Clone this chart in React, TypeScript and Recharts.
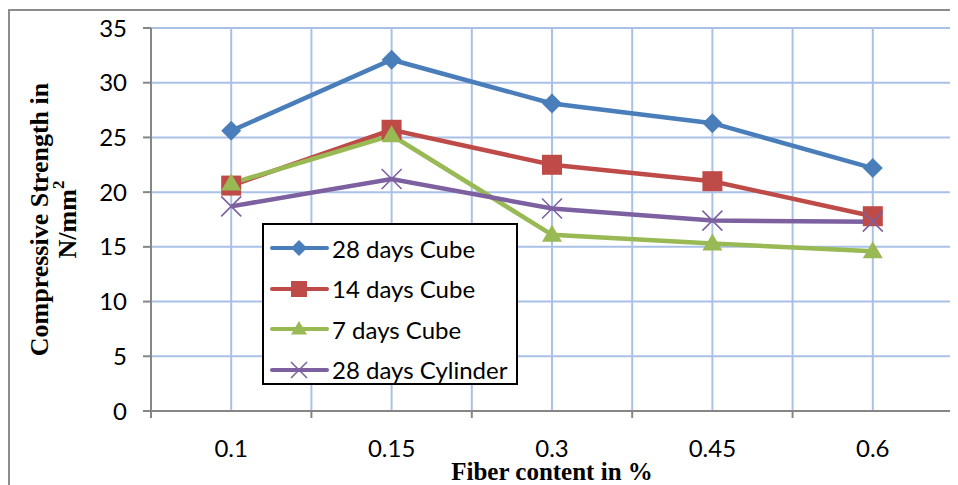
import React from "react";
import { LineChart, Line, XAxis, YAxis, CartesianGrid } from "recharts";

const fiberLabels = ["0.1", "0.15", "0.3", "0.45", "0.6"];
const cube28 = [25.6, 32.1, 28.1, 26.3, 22.2];
const cube14 = [20.6, 25.7, 22.5, 21.0, 17.8];
const cube7 = [20.8, 25.2, 16.1, 15.3, 14.6];
const cylinder28 = [18.7, 21.2, 18.5, 17.4, 17.3];
const yTicks = [0, 5, 10, 15, 20, 25, 30, 35];
const bandCentres = [0.5, 1.5, 2.5, 3.5, 4.5];
const gridSteps = [0.5, 1, 1.5, 2, 2.5, 3, 3.5, 4, 4.5, 5];

const data = fiberLabels.map((fiber, i) => ({
  fiber,
  pos: i + 0.5,
  cube28: cube28[i],
  cube14: cube14[i],
  cube7: cube7[i],
  cylinder28: cylinder28[i],
}));

const BLUE = "#4a7ebb";
const RED = "#be4b48";
const GREEN = "#98b954";
const PURPLE = "#7d60a0";
const GRID = "#a9c1e6";
const AXIS = "#868686";
const TICK_FONT = "Lato, 'Noto Sans', sans-serif";
const TITLE_FONT = "'Liberation Serif', 'Times New Roman', serif";

const axisLineStyle = { stroke: AXIS, strokeWidth: 2 };
const tickStyle = { fontFamily: TICK_FONT, fontSize: 24, fill: "#000" };
const xDomain: [number, number] = [0, 5];
const yDomain: [number, number] = [0, 35];
const xTitle = {
  value: "Fiber content in %",
  position: "insideBottom" as const,
  offset: 5,
  style: { fontFamily: TITLE_FONT, fontWeight: 700, fontSize: 25, fill: "#000" },
};
const gridGenerator = ({ offset }: any) =>
  gridSteps.map((v) => offset.left + (offset.width * v) / 5);

const TICK_LEN = 7;

// label at the band centre, tick marks on the band edges
const FiberTick = (props: any) => {
  const { x, y, index, payload, width } = props;
  const band = (Number(width) || 802) / fiberLabels.length;
  const axisY = y - TICK_LEN;
  const last = index === fiberLabels.length - 1;
  return (
    <g>
      <line x1={x - band / 2} y1={axisY} x2={x - band / 2} y2={axisY + TICK_LEN} stroke={AXIS} strokeWidth={2} />
      {last && (
        <line x1={x + band / 2} y1={axisY} x2={x + band / 2} y2={axisY + TICK_LEN} stroke={AXIS} strokeWidth={2} />
      )}
      <text x={x} y={y + 22} dy="0.71em" textAnchor="middle" style={tickStyle}>
        {fiberLabels[Math.floor(payload.value)]}
      </text>
    </g>
  );
};

type DotProps = { cx?: number; cy?: number; index?: number; r?: number };

const Diamond = ({ cx = 0, cy = 0, r = 10 }: DotProps) => (
  <polygon
    points={`${cx},${cy - r} ${cx + r},${cy} ${cx},${cy + r} ${cx - r},${cy}`}
    fill={BLUE}
  />
);

const Square = ({ cx = 0, cy = 0, r = 10 }: DotProps) => (
  <rect x={cx - r} y={cy - r} width={r * 2} height={r * 2} fill={RED} />
);

const Triangle = ({ cx = 0, cy = 0, r = 10 }: DotProps) => (
  <polygon
    points={`${cx},${cy - r} ${cx + r},${cy + r * 0.7} ${cx - r},${cy + r * 0.7}`}
    fill={GREEN}
  />
);

const Cross = ({ cx = 0, cy = 0, r = 10 }: DotProps) => (
  <g stroke={PURPLE} strokeWidth={1.6}>
    <line x1={cx - r} y1={cy - r} x2={cx + r} y2={cy + r} />
    <line x1={cx - r} y1={cy + r} x2={cx + r} y2={cy - r} />
  </g>
);

const YTitle = ({ viewBox }: any) => {
  const cy = viewBox.y + viewBox.height / 2;
  const style = { fontFamily: TITLE_FONT, fontWeight: 700, fontSize: 26, fill: "#000" };
  return (
    <g>
      <text x={31} y={cy} transform={`rotate(-90 31 ${cy})`} textAnchor="middle" dominantBaseline="central" style={style}>
        Compressive Strength in
      </text>
      <text x={59} y={cy} transform={`rotate(-90 59 ${cy})`} textAnchor="middle" dominantBaseline="central" style={style}>
        N/mm<tspan dy={-9} fontSize={17}>2</tspan>
      </text>
    </g>
  );
};
const yTitle = <YTitle />;

const legendItems = [
  { name: "28 days Cube", color: BLUE, Marker: Diamond, r: 8 },
  { name: "14 days Cube", color: RED, Marker: Square, r: 8 },
  { name: "7 days Cube", color: GREEN, Marker: Triangle, r: 8 },
  { name: "28 days Cylinder", color: PURPLE, Marker: Cross, r: 8 },
];

function ChartLegend() {
  return (
    <div
      style={{
        position: "absolute",
        left: 254,
        top: 215,
        width: 256,
        height: 162,
        boxSizing: "border-box",
        border: "2px solid #000",
        background: "#fff",
        paddingTop: 3,
      }}
    >
      {legendItems.map(({ name, color, Marker, r }) => (
        <div key={name} style={{ display: "flex", alignItems: "center", height: 40.5 }}>
          <svg width={62} height={24} style={{ marginLeft: 6 }}>
            <line x1={2} y1={12} x2={57} y2={12} stroke={color} strokeWidth={4} strokeLinecap="round" />
            <Marker cx={29} cy={12} r={r} />
          </svg>
          <span style={{ fontFamily: TICK_FONT, fontSize: 24, color: "#000" }}>{name}</span>
        </div>
      ))}
    </div>
  );
}

const makeDot = (Marker: React.FC<DotProps>) => (props: any) => (
  <Marker key={`dot-${props.index}`} cx={props.cx} cy={props.cy} r={10} />
);
const diamondDot = makeDot(Diamond);
const squareDot = makeDot(Square);
const triangleDot = makeDot(Triangle);
const crossDot = makeDot(Cross);

export default function App() {
  return (
    <div style={{ position: "relative", width: 950, height: 477 }}>
      <LineChart
        width={950}
        height={477}
        data={data}
        margin={{ top: 20, right: 5, left: 0, bottom: 0 }}
      >
        <CartesianGrid stroke={GRID} strokeWidth={2} verticalCoordinatesGenerator={gridGenerator} />
        <XAxis
          type="number"
          dataKey="pos"
          domain={xDomain}
          ticks={bandCentres}
          axisLine={axisLineStyle}
          tickLine={false}
          tickSize={TICK_LEN}
          tickMargin={0}
          height={74}
          tick={FiberTick}
          label={xTitle}
        />
        <YAxis
          type="number"
          domain={yDomain}
          ticks={yTicks}
          width={143}
          tickSize={8}
          tickMargin={16}
          axisLine={axisLineStyle}
          tickLine={axisLineStyle}
          tick={tickStyle}
          label={yTitle}
        />
        <Line dataKey="cube28" stroke={BLUE} strokeWidth={4.5} dot={diamondDot} isAnimationActive={false} />
        <Line dataKey="cube14" stroke={RED} strokeWidth={4.5} dot={squareDot} isAnimationActive={false} />
        <Line dataKey="cube7" stroke={GREEN} strokeWidth={4.5} dot={triangleDot} isAnimationActive={false} />
        <Line dataKey="cylinder28" stroke={PURPLE} strokeWidth={4.5} dot={crossDot} isAnimationActive={false} />
      </LineChart>
      <ChartLegend />
      <div
        style={{
          position: "absolute",
          left: 0,
          top: 1,
          right: -10,
          bottom: -10,
          borderTop: "2px solid #8c8c8c",
          borderLeft: "2px solid #8c8c8c",
          pointerEvents: "none",
        }}
      />
    </div>
  );
}
